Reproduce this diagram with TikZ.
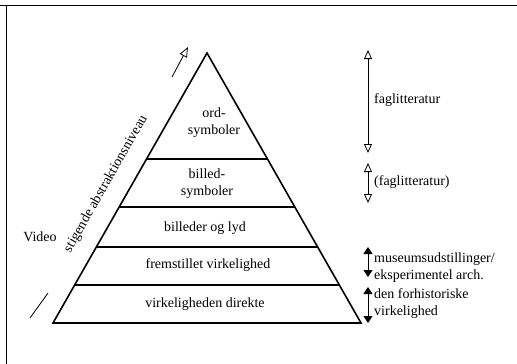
\documentclass[tikz,border=0pt]{standalone}
\usepackage{fontspec}
\setmainfont{Liberation Serif}
\usetikzlibrary{calc,arrows.meta}
\tikzset{
    lbl/.style={font=\fontsize{14}{17}\selectfont,inner sep=1pt,align=center},
    rlbl/.style={lbl,anchor=west,align=left},
    span/.style={thick,{Triangle[open,length=9pt,width=8pt]}-{Triangle[open,length=9pt,width=8pt]}},
    spanf/.style={thick,{Triangle[length=7pt,width=9pt]}-{Triangle[length=7pt,width=9pt]}}
}
\begin{document}
\begin{tikzpicture}[x=1pt,y=-1pt]
    \useasboundingbox (0,0) rectangle (517,364);
    %% frame
    \draw[thick] (0,5) -- (517,5);
    \draw[thick] (6,5) -- (6,364);
    %% pyramid
    \coordinate (top) at (207,53);
    \coordinate (bl) at (53,323);
    \coordinate (br) at (361,323);
    \draw[line width=1.6pt,line join=miter] (top) -- (bl) -- (br) -- cycle;
    \foreach \t in {0.393,0.570,0.719,0.859}
        \draw[line width=1.3pt] ($(top)!\t!(bl)$) -- ($(top)!\t!(br)$);
    %% layers
    \node[lbl] (ord) at (214,123) {ord-\\symboler};
    \node[lbl] (billed) at (207,184) {billed-\\symboler};
    \node[lbl] (lyd) at (205,228) {billeder og lyd};
    \node[lbl] (frem) at (208,265) {fremstillet virkelighed};
    \node[lbl] (dir) at (205,304) {virkeligheden direkte};
    %% left side
    \node[lbl,rotate=60.3] (niveau) at (106,184) {stigende abstraktionsniveau};
    \node[lbl] (video) at (40,237) {Video};
    \coordinate (a1) at (172,77);
    \coordinate (a2) at (188,47);
    \draw[thick,-{Triangle[open,length=10pt,width=8pt]}] (a1) -- (a2);
    \coordinate (v1) at (30,318);
    \coordinate (v2) at (48,293);
    \draw[thick] (v1) -- (v2);
    %% right side
    \coordinate (f1) at (368,50);
    \coordinate (f2) at (368,153);
    \coordinate (g1) at (368,163);
    \coordinate (g2) at (368,203);
    \coordinate (m1) at (368,247);
    \coordinate (m2) at (368,277);
    \coordinate (h1) at (368,287);
    \coordinate (h2) at (368,323);
    \draw[span] (f1) -- (f2);
    \draw[span] (g1) -- (g2);
    \draw[spanf] (m1) -- (m2);
    \draw[spanf] (h1) -- (h2);
    \node[rlbl] (fag) at (373,100) {faglitteratur};
    \node[rlbl] (fag2) at (373,182) {(faglitteratur)};
    \node[rlbl] (mus) at (373,268) {museumsudstillinger/\\eksperimentel arch.};
    \node[rlbl] (forh) at (373,304) {den forhistoriske\\virkelighed};
\end{tikzpicture}
\end{document}
